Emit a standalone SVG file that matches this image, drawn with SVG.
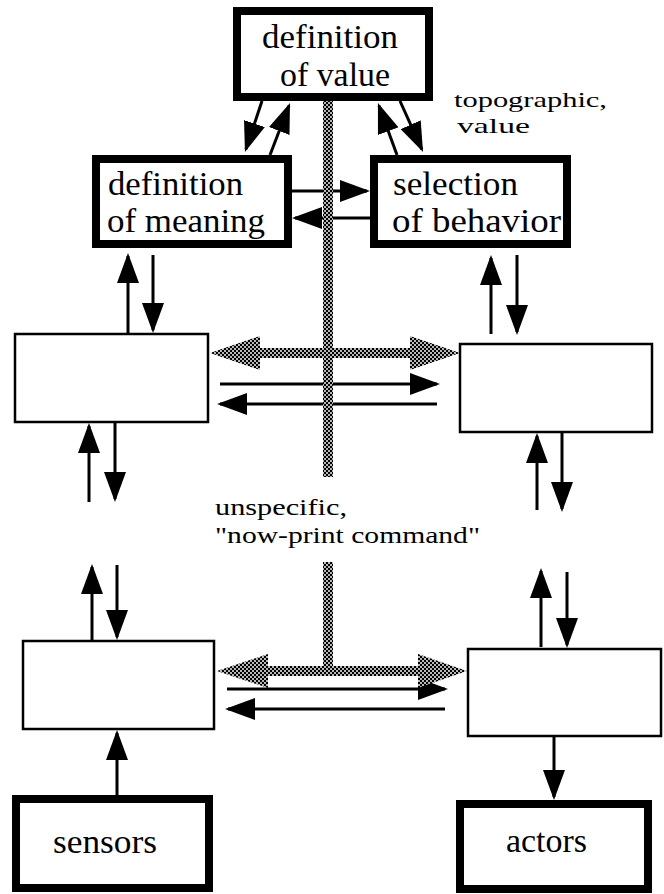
<svg xmlns="http://www.w3.org/2000/svg" width="664" height="894" viewBox="0 0 664 894">
<style>
.thick{fill:#fff;stroke:#000;stroke-width:8}
.thin{fill:#fff;stroke:#000;stroke-width:2.5}
.big{font-family:"Liberation Serif","Times New Roman",serif;font-size:33px;fill:#000}
.lbl{font-family:"Liberation Serif","Times New Roman",serif;font-size:24px;fill:#000}
.sm{font-family:"Liberation Serif","Times New Roman",serif;font-size:22px;fill:#000}
.c line{stroke:#000;stroke-width:3;marker-end:url(#ah)}
.gray{fill:url(#dither);stroke:none}
</style>
<defs>
<marker id="ah" markerUnits="userSpaceOnUse" markerWidth="30" markerHeight="22" viewBox="0 0 30 22" refX="27" refY="11" orient="auto">
<path d="M0,0 L30,11 L0,22 z" fill="#000"/>
</marker>
<pattern id="dither" patternUnits="userSpaceOnUse" width="4" height="4">
<rect width="4" height="4" fill="#b8b8b8"/>
<rect width="2" height="2" fill="#000"/>
<rect x="2" y="2" width="2" height="2" fill="#000"/>
</pattern>
</defs>
<rect width="664" height="894" fill="#fff"/>

<g id="connectors" class="c">
<line x1="262" y1="101" x2="245.9" y2="149.2"/>
<line x1="270" y1="155" x2="288.9" y2="105.8"/>
<line x1="397" y1="155" x2="379" y2="105.8"/>
<line x1="400" y1="101" x2="421.8" y2="149.3"/>
<line x1="292" y1="191" x2="367" y2="191"/>
<line x1="370" y1="218" x2="295" y2="218"/>
<line x1="128" y1="334" x2="128" y2="256"/>
<line x1="153" y1="255" x2="153" y2="330"/>
<line x1="89" y1="502" x2="89" y2="426"/>
<line x1="115" y1="423" x2="115" y2="499"/>
<line x1="92" y1="640" x2="92" y2="567"/>
<line x1="117" y1="565" x2="117" y2="637"/>
<line x1="117" y1="795" x2="117" y2="733"/>
<line x1="491" y1="334" x2="491" y2="258"/>
<line x1="517" y1="255" x2="517" y2="332"/>
<line x1="537" y1="510" x2="537" y2="436"/>
<line x1="562" y1="433" x2="562" y2="509"/>
<line x1="541" y1="647" x2="541" y2="571"/>
<line x1="567" y1="572" x2="567" y2="645"/>
<line x1="554" y1="737" x2="554" y2="797"/>
<line x1="220" y1="384" x2="437" y2="384"/>
<line x1="437" y1="404" x2="220" y2="404"/>
<line x1="227" y1="689" x2="445" y2="689"/>
<line x1="445" y1="709" x2="228" y2="709"/>
</g>

<g id="command-signal">
<rect class="gray" x="323" y="101" width="10" height="376"/>
<path class="gray" d="M210,353 L260,336 L260,348 L410,348 L410,336 L460,353 L410,370 L410,358 L260,358 L260,370 Z"/>
<rect class="gray" x="323" y="562" width="10" height="110"/>
<path class="gray" d="M217,671 L268,654 L268,666 L418,666 L418,654 L467,671 L418,688 L418,676 L268,676 L268,688 Z"/>
</g>

<g id="definition-of-value">
<rect class="thick" x="237" y="11" width="192" height="86"/>
<text class="big" x="262" y="48" textLength="136" lengthAdjust="spacingAndGlyphs">definition</text>
<text class="big" x="280" y="86" textLength="110" lengthAdjust="spacingAndGlyphs">of value</text>
</g>
<g id="definition-of-meaning">
<rect class="thick" x="96" y="159" width="192" height="85"/>
<text class="big" x="108" y="195" textLength="135" lengthAdjust="spacingAndGlyphs">definition</text>
<text class="big" x="107" y="232" textLength="158" lengthAdjust="spacingAndGlyphs">of meaning</text>
</g>
<g id="selection-of-behavior">
<rect class="thick" x="374" y="159" width="193" height="85"/>
<text class="big" x="393" y="195" textLength="125" lengthAdjust="spacingAndGlyphs">selection</text>
<text class="big" x="392" y="232" textLength="169" lengthAdjust="spacingAndGlyphs">of behavior</text>
</g>
<g id="topographic-label">
<text class="sm" x="454" y="107" textLength="153" lengthAdjust="spacingAndGlyphs">topographic,</text>
<text class="sm" x="457" y="133" textLength="73" lengthAdjust="spacingAndGlyphs">value</text>
</g>
<g id="mid-left"><rect class="thin" x="15" y="334" width="193" height="88"/></g>
<g id="mid-right"><rect class="thin" x="460" y="344" width="192" height="88"/></g>
<g id="unspecific-label">
<text class="lbl" x="215" y="515" textLength="132" lengthAdjust="spacingAndGlyphs">unspecific,</text>
<text class="lbl" x="215" y="543" textLength="265" lengthAdjust="spacingAndGlyphs">&quot;now-print command&quot;</text>
</g>
<g id="low-left"><rect class="thin" x="23" y="641" width="191" height="88"/></g>
<g id="low-right"><rect class="thin" x="468" y="649" width="193" height="87"/></g>
<g id="sensors">
<rect class="thick" x="16" y="799" width="193" height="89"/>
<text class="big" x="53" y="853" textLength="104" lengthAdjust="spacingAndGlyphs">sensors</text>
</g>
<g id="actors">
<rect class="thick" x="460" y="804" width="188" height="85"/>
<text class="big" x="506" y="852" textLength="81" lengthAdjust="spacingAndGlyphs">actors</text>
</g>
</svg>
